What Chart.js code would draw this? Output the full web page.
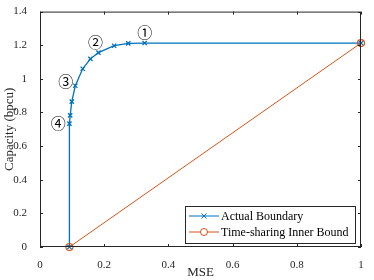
<!DOCTYPE html>
<html>
<head>
<meta charset="utf-8">
<script src="https://cdn.jsdelivr.net/npm/chart.js@4.4.1/dist/chart.umd.min.js"></script>
<style>
  html, body { margin: 0; padding: 0; background: #fff; }
  #wrap { width: 374px; height: 280px; }
</style>
</head>
<body>
<div id="wrap"><canvas id="cap_chart"></canvas></div>
<script>
// actual boundary points (MSE, capacity)
const boundary_mse = [0.0917, 0.0917, 0.094, 0.099, 0.110, 0.133, 0.157, 0.182, 0.231, 0.275, 0.326, 1.0];
const boundary_cap = [0, 0.734, 0.783, 0.865, 0.959, 1.060, 1.119, 1.156, 1.197, 1.211, 1.213, 1.213];

const inner_mse = [0.0917, 1.0];
const inner_cap = [0, 1.213];

const series_labels = ['Actual Boundary', 'Time-sharing Inner Bound'];
const x_ticks = [0, 0.2, 0.4, 0.6, 0.8, 1];
const y_ticks = [0, 0.2, 0.4, 0.6, 0.8, 1, 1.2, 1.4];

const note_labels = ['\u2460', '\u2461', '\u2462', '\u2463'];
const note_mse = [0.326, 0.173, 0.080, 0.057];
const note_cap = [1.275, 1.219, 0.988, 0.734];

const blue = '#0072BD';
const orange = '#D95319';
const axis_color = '#262626';
const serif = '"Liberation Serif", "Times New Roman", serif';

const to_points = (xs, ys) => xs.map((x, i) => ({ x: x, y: ys[i] }));

// MATLAB-ish box with inward ticks, notes and legend
const matlab_axes = {
    id: 'matlab_axes',
    afterDatasetsDraw(chart) {
        const ctx = chart.ctx;
        const a = chart.chartArea;
        const xs = chart.scales.x;
        const ys = chart.scales.y;
        ctx.save();
        ctx.strokeStyle = axis_color;
        ctx.lineWidth = 1;
        ctx.strokeRect(a.left + 0.5, a.top + 0.5, a.right - a.left - 1, a.bottom - a.top - 1);
        const tl = 3;
        ctx.beginPath();
        x_ticks.forEach(v => {
            const px = Math.round(xs.getPixelForValue(v)) + 0.5;
            ctx.moveTo(px, a.bottom); ctx.lineTo(px, a.bottom - tl);
            ctx.moveTo(px, a.top); ctx.lineTo(px, a.top + tl);
        });
        y_ticks.forEach(v => {
            const py = Math.round(ys.getPixelForValue(v)) + 0.5;
            ctx.moveTo(a.left, py); ctx.lineTo(a.left + tl, py);
            ctx.moveTo(a.right, py); ctx.lineTo(a.right - tl, py);
        });
        ctx.stroke();

        // circled labels
        ctx.fillStyle = '#000';
        ctx.font = '15px "Noto Sans CJK JP", "DejaVu Sans", sans-serif';
        ctx.textAlign = 'center';
        ctx.textBaseline = 'middle';
        note_labels.forEach((t, i) => {
            ctx.fillText(t, xs.getPixelForValue(note_mse[i]), ys.getPixelForValue(note_cap[i]));
        });

        // legend box
        const lx = 185, ly = 206, lw = 170, lh = 37;
        ctx.fillStyle = '#fff';
        ctx.fillRect(lx, ly, lw, lh);
        ctx.strokeStyle = axis_color;
        ctx.lineWidth = 1;
        ctx.strokeRect(lx + 0.5, ly + 0.5, lw, lh);
        ctx.font = '12px ' + serif;
        ctx.textAlign = 'left';
        ctx.textBaseline = 'middle';
        const rows = [ly + 10, ly + 26];
        [blue, orange].forEach((c, i) => {
            const y = rows[i];
            ctx.strokeStyle = c;
            ctx.lineWidth = 1;
            ctx.beginPath();
            ctx.moveTo(lx + 4, y); ctx.lineTo(lx + 34, y);
            ctx.stroke();
            const mx = lx + 19;
            ctx.beginPath();
            if (i === 0) {
                ctx.moveTo(mx - 2.5, y - 2.5); ctx.lineTo(mx + 2.5, y + 2.5);
                ctx.moveTo(mx - 2.5, y + 2.5); ctx.lineTo(mx + 2.5, y - 2.5);
            } else {
                ctx.fillStyle = '#fff';
                ctx.arc(mx, y, 3.5, 0, Math.PI * 2);
                ctx.fill();
            }
            ctx.stroke();
            ctx.fillStyle = '#000';
            ctx.fillText(series_labels[i], lx + 36, y + 1);
        });
        ctx.restore();
    }
};

window.onload = function() {
    const ctx = document.getElementById('cap_chart').getContext('2d');
    new Chart(ctx, {
        type: 'scatter',
        data: {
            datasets: [{
                label: series_labels[0],
                data: to_points(boundary_mse, boundary_cap),
                showLine: true,
                borderColor: blue,
                backgroundColor: blue,
                borderWidth: 1.3,
                pointStyle: 'crossRot',
                pointRadius: 3,
                pointBorderWidth: 1.3,
                order: 2
            }, {
                label: series_labels[1],
                data: to_points(inner_mse, inner_cap),
                showLine: true,
                borderColor: orange,
                backgroundColor: 'rgba(0,0,0,0)',
                borderWidth: 1,
                pointStyle: 'circle',
                pointRadius: 3.5,
                pointBorderWidth: 1.2,
                order: 1
            }]
        },
        options: {
            responsive: true,
            maintainAspectRatio: false,
            animation: false,
            clip: false,
            layout: { padding: { top: 8, right: 13, left: 0, bottom: 0 } },
            plugins: { legend: { display: false }, tooltip: { enabled: false } },
            scales: {
                x: {
                    type: 'linear', min: 0, max: 1,
                    afterBuildTicks: s => { s.ticks = x_ticks.map(v => ({ value: v })); },
                    afterFit: s => { s.height = 33; },
                    grid: { display: false },
                    border: { display: false },
                    ticks: { color: axis_color, font: { family: serif, size: 11 }, padding: 4, maxRotation: 0,
                             callback: v => String(v) },
                    title: { display: true, text: 'MSE', color: axis_color, font: { family: serif, size: 13 }, padding: { top: 2, bottom: 0 } }
                },
                y: {
                    type: 'linear', min: 0, max: 1.4,
                    afterBuildTicks: s => { s.ticks = y_ticks.map(v => ({ value: v })); },
                    afterFit: s => { s.width = 40; },
                    grid: { display: false },
                    border: { display: false },
                    ticks: { color: axis_color, font: { family: serif, size: 11 }, padding: 5,
                             callback: v => String(v) },
                    title: { display: true, text: 'Capacity (bpcu)', color: axis_color, font: { family: serif, size: 13 }, padding: { top: 2, bottom: 0 } }
                }
            }
        },
        plugins: [matlab_axes]
    });
};
</script>
</body>
</html>
